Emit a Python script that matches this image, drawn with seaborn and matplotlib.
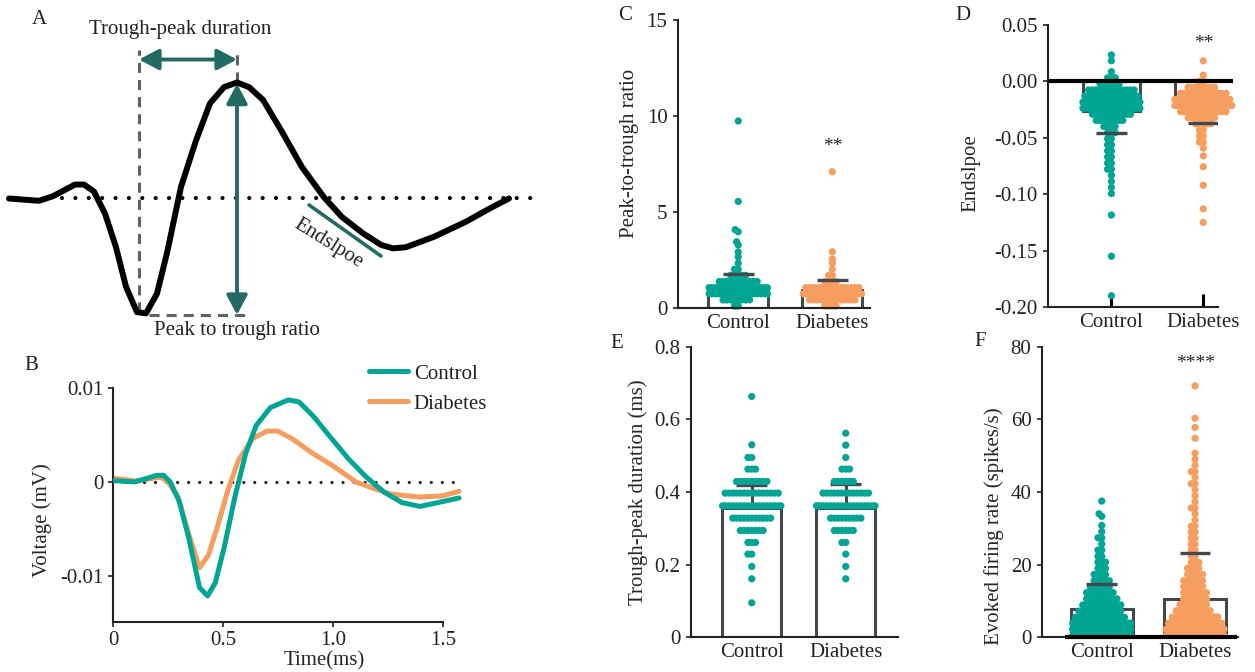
import numpy as np
import pandas as pd
import matplotlib
matplotlib.use("Agg")
import matplotlib.pyplot as plt
import seaborn as sns
from seaborn.categorical import Beeswarm

# --- DATA ---
GROUPS = ["Control", "Diabetes"]

# A: schematic spike waveform (arbitrary units)
schem_t = [0.09, 0.39, 0.53, 0.75, 0.84, 0.94, 1.05, 1.16, 1.26, 1.37, 1.46, 1.57, 1.67,
           1.81, 1.96, 2.10, 2.24, 2.37, 2.49, 2.63, 2.81, 3.02, 3.24, 3.42, 3.63, 3.81,
           3.93, 4.06, 4.34, 4.66, 4.91, 5.09]
schem_v = [0.00, -0.02, 0.02, 0.12, 0.12, 0.06, -0.13, -0.42, -0.76, -0.98, -0.99, -0.82,
           -0.47, 0.10, 0.50, 0.82, 0.96, 1.00, 0.96, 0.85, 0.59, 0.27, 0.01, -0.16, -0.30,
           -0.40, -0.43, -0.42, -0.33, -0.20, -0.08, 0.00]

# B: mean waveforms (ms, mV)
ctrl_time = [0.00, 0.10, 0.20, 0.23, 0.26, 0.30, 0.344, 0.393, 0.43, 0.465, 0.506, 0.554,
             0.603, 0.651, 0.716, 0.797, 0.845, 0.91, 0.99, 1.072, 1.152, 1.233, 1.314,
             1.395, 1.476, 1.573]
ctrl_volt = [0.00014, 0.0, 0.0007, 0.0007, 0.0, -0.002, -0.0059, -0.0112, -0.0121, -0.0107,
             -0.0069, -0.0016, 0.003, 0.006, 0.0079, 0.0087, 0.0085, 0.007, 0.0047, 0.0024,
             0.0005, -0.0011, -0.0022, -0.0026, -0.0022, -0.0017]
diab_time = [0.00, 0.10, 0.215, 0.247, 0.296, 0.344, 0.393, 0.433, 0.474, 0.522, 0.57,
             0.635, 0.70, 0.748, 0.813, 0.91, 1.007, 1.104, 1.185, 1.265, 1.395, 1.492, 1.573]
diab_volt = [0.0004, 0.0001, 0.0005, 0.0001, -0.0016, -0.0055, -0.0091, -0.0078, -0.0048,
             -0.0009, 0.0023, 0.0046, 0.0054, 0.0054, 0.0046, 0.003, 0.0016, 0.0, -0.0007,
             -0.0013, -0.0016, -0.0015, -0.001]

# C: peak-to-trough ratio (value levels and number of units at each level)
ptr_ctrl_vals = [0.10, 0.42, 0.74, 1.06, 1.38, 1.70, 2.02, 2.34, 2.66, 2.92, 3.28, 3.45,
                 3.97, 4.08, 5.55, 9.74]
ptr_ctrl_counts = [2, 8, 17, 17, 11, 5, 2, 1, 1, 1, 1, 1, 1, 1, 1, 1]
ptr_diab_vals = [0.10, 0.42, 0.74, 1.06, 1.38, 1.70, 2.02, 2.34, 2.55, 2.93, 7.10]
ptr_diab_counts = [4, 13, 17, 15, 4, 2, 1, 1, 1, 1, 1]
ptr_mean = [1.05, 0.95]
ptr_sd_end = [1.77, 1.46]

# D: end slope
slope_ctrl_vals = [0.0234, 0.0183, 0.0086, 0.0032, -0.0022, -0.0076, -0.0130, -0.0184,
                   -0.0238, -0.0292, -0.0346, -0.0400, -0.0454, -0.0508, -0.0562, -0.0616,
                   -0.0670, -0.0724, -0.0778, -0.0832, -0.0886, -0.0940, -0.0994, -0.1185,
                   -0.1550, -0.1900]
slope_ctrl_counts = [1, 1, 1, 3, 6, 13, 15, 17, 17, 11, 8, 4, 3, 2, 2, 2, 2, 2, 2, 1, 1,
                     1, 1, 1, 1, 1]
slope_diab_vals = [0.0183, 0.0056, 0.0002, -0.0052, -0.0106, -0.0160, -0.0214, -0.0268,
                   -0.0322, -0.0376, -0.0430, -0.0484, -0.0538, -0.0592, -0.0660, -0.0757,
                   -0.0920, -0.1130, -0.1250]
slope_diab_counts = [1, 1, 2, 8, 13, 16, 17, 13, 8, 5, 2, 2, 2, 1, 1, 1, 1, 1, 1]
slope_mean = [-0.026, -0.020]
slope_sd_end = [-0.0455, -0.0372]

# E: trough-peak duration (ms)
tpd_ctrl_vals = [0.095, 0.161, 0.195, 0.229, 0.261, 0.294, 0.328, 0.362, 0.397, 0.429,
                 0.463, 0.495, 0.530, 0.663]
tpd_ctrl_counts = [1, 1, 1, 2, 3, 7, 11, 17, 15, 9, 3, 2, 1, 1]
tpd_diab_vals = [0.161, 0.195, 0.229, 0.261, 0.294, 0.328, 0.362, 0.397, 0.429, 0.463,
                 0.495, 0.529, 0.562]
tpd_diab_counts = [1, 1, 1, 2, 6, 9, 17, 13, 6, 3, 1, 1, 1]
tpd_mean = [0.355, 0.355]
tpd_sd_end = [0.418, 0.421]

# F: evoked firing rate (spikes/s)
rate_ctrl_vals = [0.5, 2.2, 3.9, 5.5, 7.2, 8.9, 10.6, 12.3, 13.9, 15.6, 17.3, 19.0, 20.7,
                  22.3, 24.0, 25.7, 27.4, 29.1, 30.8, 33.3, 34.0, 37.5]
rate_ctrl_counts = [17, 18, 17, 14, 12, 11, 9, 8, 6, 5, 4, 3, 3, 2, 2, 1, 2, 1, 1, 1, 1, 1]
rate_diab_vals = [0.5, 2.2, 3.9, 5.6, 7.3, 9.0, 10.6, 12.3, 14.0, 15.6, 17.3, 19.0, 20.6,
                  22.3, 24.0, 25.6, 27.3, 29.0, 30.6, 32.3, 34.0, 35.6, 37.3, 39.0, 40.6,
                  42.3, 44.0, 45.6, 47.3, 49.0, 50.7, 54.8, 57.8, 60.3, 69.2]
rate_diab_counts = [17, 17, 15, 13, 10, 8, 7, 7, 6, 6, 5, 4, 3, 2, 2, 2, 2, 2, 2, 1, 1, 2,
                    1, 1, 1, 2, 1, 2, 1, 1, 1, 1, 1, 1, 1]
rate_mean = [7.7, 10.5]
rate_sd_end = [14.7, 23.3]

# --- Styling ---
TEAL = "#00a693"
ORANGE = "#f59e5f"
DARK_TEAL = "#236b62"
GREY = "#43484d"
INK = "#222222"
PALETTE = {"Control": TEAL, "Diabetes": ORANGE}

sns.set_theme(style="ticks")
plt.rcParams["font.family"] = ["Liberation Serif", "DejaVu Serif"]
plt.rcParams["font.size"] = 15
plt.rcParams["axes.unicode_minus"] = False
plt.rcParams["axes.edgecolor"] = INK
plt.rcParams["axes.linewidth"] = 1.5
plt.rcParams["text.color"] = INK
plt.rcParams["xtick.labelcolor"] = INK
plt.rcParams["ytick.labelcolor"] = INK

W, H = 1255, 672
fig = plt.figure(figsize=(W / 100, H / 100), dpi=100)


def px_axes(left, top, right, bottom):
    return fig.add_axes([left / W, 1 - bottom / H, (right - left) / W, (bottom - top) / H])


def swarm_frame(cv, cc, dv, dc):
    return pd.DataFrame({
        "Group": ["Control"] * sum(cc) + ["Diabetes"] * sum(dc),
        "Value": np.concatenate([np.repeat(cv, cc), np.repeat(dv, dc)]),
    })


def narrow_swarm(collections, width, overlap=0.5):
    # seaborn's beeswarm, in a narrower band and letting dots overlap (prism-like)
    for center, points in enumerate(collections):
        swarm = Beeswarm(orient="x", width=width, warn_thresh=1.0)

        def draw(self, renderer, swarm=swarm, center=center):
            full = self.get_sizes().copy()
            self.set_sizes(full * overlap ** 2)
            swarm(self, center)
            self.set_sizes(full)
            type(self).draw(self, renderer)

        points.draw = draw.__get__(points)


def bar_swarm_panel(ax, df, palette, means, sd_end, bar_width=0.63, caps_on_top=True):
    sns.barplot(x=GROUPS, y=means, color="white", edgecolor=GREY, linewidth=2.2,
                width=bar_width, errorbar=None, saturation=1, ax=ax)
    n0 = len(ax.collections)
    sns.swarmplot(data=df, x="Group", y="Value", hue="Group", order=GROUPS,
                  palette=palette, size=5.2, linewidth=0, legend=False, ax=ax,
                  zorder=2, clip_on=False)
    narrow_swarm(ax.collections[n0:], 0.62)
    pos = np.arange(len(GROUPS))
    ax.vlines(pos, means, sd_end, color=GREY, lw=2.2, zorder=1.5)
    ax.hlines(sd_end, pos - 0.165, pos + 0.165, color=GREY, lw=2.4,
              zorder=3 if caps_on_top else 1.5)
    ax.set_xlabel("")
    ax.tick_params(axis="x", direction="in", length=9.5, width=2.2, color="black",
                   pad=4, labelsize=15)
    ax.tick_params(axis="y", direction="out", length=3.6, width=1.2, color=INK,
                   pad=4, labelsize=15)
    sns.despine(ax=ax)


# --- PANEL A: schematic ---
axA = px_axes(0, 0, 560, 345)
sns.lineplot(x=schem_t, y=schem_v, color="black", linewidth=4.3, sort=False,
             estimator=None, ax=axA, zorder=3)
axA.hlines(0, 0.62, 5.34, color="black", lw=3, linestyles=(0, (0.01, 3.2)),
           capstyle="round", zorder=2)
dash_kw = dict(color="#5c636a", lw=2.2, dashes=(3.3, 2.3))
axA.plot([1.39, 1.39], [-0.978, 1.28], **dash_kw)
axA.plot([2.37, 2.37], [1.004, 1.28], **dash_kw)
axA.plot([1.49, 2.49], [-1.004, -1.004], **dash_kw)
arrow_kw = dict(arrowstyle="<|-|>,head_length=0.85,head_width=0.45", color=DARK_TEAL,
                lw=2.8, shrinkA=0, shrinkB=0, mutation_scale=14)
axA.annotate("", xy=(2.37, 1.198), xytext=(1.39, 1.198), arrowprops=arrow_kw)
axA.annotate("", xy=(2.37, 0.99), xytext=(2.37, -1.004), arrowprops=arrow_kw)
axA.plot([3.09, 3.81], [-0.056, -0.496], color=DARK_TEAL, lw=2.6)
axA.text(1.80, 1.461, "Trough-peak duration", ha="center", va="center", fontsize=15)
axA.text(2.37, -1.134, "Peak to trough ratio", ha="center", va="center", fontsize=15)
axA.text(3.28, -0.39, "Endslpoe", ha="center", va="center", rotation=-32,
         rotation_mode="anchor", fontsize=15)
axA.set_xlim(0, 5.6)
axA.set_ylim(-1.263, 1.711)
axA.axis("off")

# --- PANEL B: mean waveforms ---
axB = px_axes(113, 387.7, 465, 622.3)
wave_df = pd.concat([
    pd.DataFrame({"Time": ctrl_time, "Voltage": ctrl_volt, "Group": "Control"}),
    pd.DataFrame({"Time": diab_time, "Voltage": diab_volt, "Group": "Diabetes"}),
])
sns.lineplot(data=wave_df, x="Time", y="Voltage", hue="Group", hue_order=GROUPS,
             palette=PALETTE, linewidth=3.6, estimator=None, sort=False, ax=axB)
axB.get_lines()[0].set_zorder(3)
axB.hlines(0, 0.14, 1.57, color="black", lw=2.2, linestyles=(0, (0.01, 3.6)),
           capstyle="round", zorder=1)
sns.move_legend(axB, "upper left", bbox_to_anchor=(369 / W, 1 - 364 / H),
                bbox_transform=fig.transFigure, frameon=False, title=None, fontsize=15,
                handlelength=1.85, handletextpad=0.3, labelspacing=0.5, borderpad=0,
                borderaxespad=0)
for h in axB.get_legend().legend_handles:
    h.set_linewidth(3.6)
axB.set_xlim(0, 1.6)
axB.set_ylim(-0.0149, 0.0100)
axB.set_xticks([0, 0.5, 1.0, 1.5], ["0", "0.5", "1.0", "1.5"])
axB.set_yticks([0.01, 0, -0.01], ["0.01", "0", "-0.01"])
axB.tick_params(length=3.6, width=1.2, color=INK, pad=3, labelsize=15)
sns.despine(ax=axB)
axB.spines["bottom"].set_bounds(0, 1.5)
axB.set_xlabel("Time(ms)", fontsize=15)
axB.set_ylabel("Voltage (mV)", fontsize=15)
axB.xaxis.set_label_coords(0.6, -0.122)
axB.yaxis.set_label_coords(-0.173, 0.436)

# --- PANEL C: peak-to-trough ratio ---
axC = px_axes(678, 20, 870, 308)
bar_swarm_panel(axC, swarm_frame(ptr_ctrl_vals, ptr_ctrl_counts, ptr_diab_vals, ptr_diab_counts),
                PALETTE, ptr_mean, ptr_sd_end, bar_width=0.64)
axC.text(1, 8.4, "**", ha="center", va="center", fontsize=14)
axC.set_ylim(0, 15)
axC.set_yticks([0, 5, 10, 15], ["0", "5", "10", "15"])
axC.set_xlim(-0.64, 1.40)
axC.set_ylabel("Peak-to-trough ratio", fontsize=15)
axC.yaxis.set_label_coords(-0.203, 0.538)

# --- PANEL D: end slope ---
axD = px_axes(1048, 25, 1218, 307)
bar_swarm_panel(axD, swarm_frame(slope_ctrl_vals, slope_ctrl_counts, slope_diab_vals, slope_diab_counts),
                PALETTE, slope_mean, slope_sd_end, bar_width=0.62)
axD.hlines(0, -0.69, 1.32, color="black", lw=3, zorder=4, clip_on=False)
axD.text(1, 0.0338, "**", ha="center", va="center", fontsize=14)
axD.set_ylim(-0.2, 0.05)
d_ticks = [0.05, 0.0, -0.05, -0.10, -0.15, -0.20]
axD.set_yticks(d_ticks, [f"{t:.2f}" for t in d_ticks])
axD.set_xlim(-0.69, 1.16)
axD.set_ylabel("Endslpoe", fontsize=15)
axD.yaxis.set_label_coords(-0.40, 0.475)

# --- PANEL E: trough-peak duration ---
axE = px_axes(691, 346.7, 898, 637.3)
bar_swarm_panel(axE, swarm_frame(tpd_ctrl_vals, tpd_ctrl_counts, tpd_diab_vals, tpd_diab_counts),
                {"Control": TEAL, "Diabetes": TEAL}, tpd_mean, tpd_sd_end,
                bar_width=0.63, caps_on_top=False)
axE.set_ylim(0, 0.8)
axE.set_yticks([0, 0.2, 0.4, 0.6, 0.8], ["0", "0.2", "0.4", "0.6", "0.8"])
axE.set_xlim(-0.646, 1.556)
axE.set_ylabel("Trough-peak duration (ms)", fontsize=15)
axE.yaxis.set_label_coords(-0.208, 0.50)

# --- PANEL F: evoked firing rate ---
axF = px_axes(1042, 346.7, 1238, 637.3)
bar_swarm_panel(axF, swarm_frame(rate_ctrl_vals, rate_ctrl_counts, rate_diab_vals, rate_diab_counts),
                PALETTE, rate_mean, rate_sd_end, bar_width=0.66)
axF.hlines(0, -0.39, 1.45, color="black", lw=3, zorder=4, clip_on=False)
axF.text(1, 75.5, "****", ha="center", va="center", fontsize=14)
axF.set_ylim(0, 80)
axF.set_yticks([0, 20, 40, 60, 80], ["0", "20", "40", "60", "80"])
axF.set_xlim(-0.64, 1.46)
axF.set_ylabel("Evoked firing rate (spikes/s)", fontsize=15)
axF.yaxis.set_label_coords(-0.194, 0.383)

# --- panel letters ---
for letter, (x, y) in {"A": (39, 20), "B": (31, 366), "C": (625, 15), "D": (963, 15),
                       "E": (617, 343), "F": (980, 342)}.items():
    fig.text(x / W, 1 - y / H, letter, ha="center", va="center", fontsize=15)

fig.savefig("out.png", dpi=100)
